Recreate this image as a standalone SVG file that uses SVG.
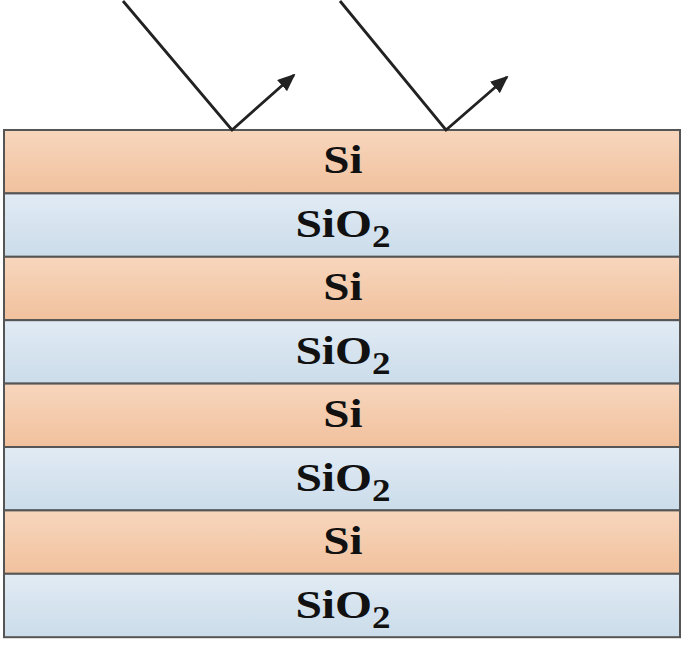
<svg xmlns="http://www.w3.org/2000/svg" width="685" height="648" viewBox="0 0 685 648">
<defs>
<linearGradient id="gSi" x1="0" y1="0" x2="0" y2="1"><stop offset="0" stop-color="#f7d6bd"/><stop offset="1" stop-color="#f1c19d"/></linearGradient>
<linearGradient id="gOx" x1="0" y1="0" x2="0" y2="1"><stop offset="0" stop-color="#e1ebf4"/><stop offset="1" stop-color="#cbdcea"/></linearGradient>
<marker id="ah" viewBox="0 0 18 15" refX="16" refY="7.5" markerWidth="18" markerHeight="15" orient="auto" markerUnits="userSpaceOnUse"><path d="M0,0 L18,7.5 L0,15 z" fill="#222"/></marker>
<style>
.si{fill:url(#gSi);stroke:#555;stroke-width:2}
.ox{fill:url(#gOx);stroke:#555;stroke-width:2}
.t{font-family:'Liberation Serif',serif;font-weight:700;font-size:41px;fill:#111;text-anchor:middle}
.sub{font-size:32px}
.ray{stroke:#222;stroke-width:2.8;fill:none}
</style>
</defs>
<g id="layer1"><rect class="si" x="4" y="130" width="676" height="63.4"/><text class="t" transform="translate(343,173) scale(1.15,1)">Si</text></g>
<g id="layer2"><rect class="ox" x="4" y="193.4" width="676" height="63.4"/><text class="t" transform="translate(343,237) scale(1.16,1)">SiO<tspan class="sub" dy="10">2</tspan></text></g>
<g id="layer3"><rect class="si" x="4" y="256.8" width="676" height="63.4"/><text class="t" transform="translate(343,300) scale(1.15,1)">Si</text></g>
<g id="layer4"><rect class="ox" x="4" y="320.2" width="676" height="63.4"/><text class="t" transform="translate(343,364) scale(1.16,1)">SiO<tspan class="sub" dy="10">2</tspan></text></g>
<g id="layer5"><rect class="si" x="4" y="383.6" width="676" height="63.4"/><text class="t" transform="translate(343,427) scale(1.15,1)">Si</text></g>
<g id="layer6"><rect class="ox" x="4" y="447" width="676" height="63.4"/><text class="t" transform="translate(343,491) scale(1.16,1)">SiO<tspan class="sub" dy="10">2</tspan></text></g>
<g id="layer7"><rect class="si" x="4" y="510.4" width="676" height="63.4"/><text class="t" transform="translate(343,554) scale(1.15,1)">Si</text></g>
<g id="layer8"><rect class="ox" x="4" y="573.8" width="676" height="63.4"/><text class="t" transform="translate(343,618) scale(1.16,1)">SiO<tspan class="sub" dy="10">2</tspan></text></g>
<g id="connectors">
<polyline class="ray" points="123,1 232,130 294,75" marker-end="url(#ah)"/>
<polyline class="ray" points="340,1 446,130 507,77" marker-end="url(#ah)"/>
</g>
</svg>
